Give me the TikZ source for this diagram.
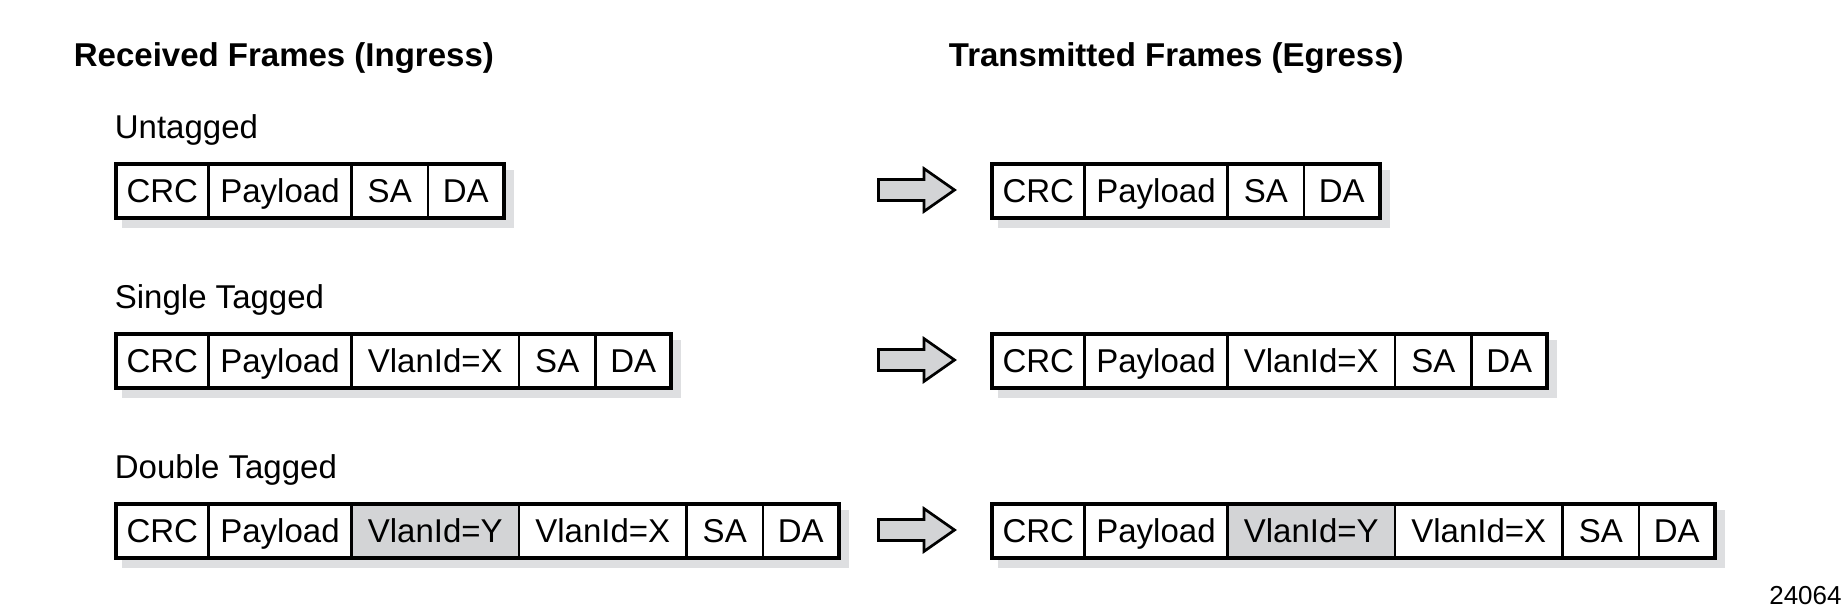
\documentclass[tikz,border=0pt]{standalone}
\usepackage{fontspec}
\setmainfont{Liberation Sans}
\usetikzlibrary{positioning,shapes.arrows,backgrounds}
\definecolor{tagfill}{RGB}{211,212,214}
\definecolor{shadowfill}{RGB}{222,223,225}
\tikzset{
	%Define style for one field of a frame
	field/.style={
		draw, line width=1.15pt,
		fill=white,
		outer sep=0pt, inner sep=0pt,
		minimum height=27pt,
		text height=11.8pt, text depth=0pt,
		font=\fontsize{16.5}{18}\selectfont},
	crc/.style={field, minimum width=46.25pt},
	payload/.style={field, minimum width=71.5pt},
	vlan/.style={field, minimum width=83.75pt},
	sa/.style={field, minimum width=38.25pt},
	da/.style={field, minimum width=37.75pt},
	tagged/.style={fill=tagfill},
	% Define frame outline and shadow
	frameline/.style={draw, line width=2pt},
	frameshadow/.style={fill=shadowfill},
	% Define text styles
	heading/.style={anchor=base west, inner sep=0pt,
		font=\fontsize{16.5}{18}\selectfont\bfseries},
	rowlabel/.style={anchor=base west, inner sep=0pt,
		font=\fontsize{16.5}{18}\selectfont},
	% Define block arrow between frames
	pass/.style={
		single arrow, draw, line width=1.35pt,
		fill=tagfill,
		inner sep=4.6pt,
		minimum height=38pt,
		single arrow head extend=5.4pt,
		single arrow tip angle=70}
}
\begin{document}
\begin{tikzpicture}[x=0.5pt, y=-0.5pt]
	\useasboundingbox (0,0) rectangle (1848,614);

	\node[heading] (ingress) at (73.5,67) {Received Frames (Ingress)};
	\node[heading] (egress) at (948.5,67) {Transmitted Frames (Egress)};

	\node[rowlabel] (lab-u) at (114.5,139) {Untagged};
	\node[rowlabel] (lab-s) at (114.5,309) {Single Tagged};
	\node[rowlabel] (lab-d) at (114.5,479) {Double Tagged};

	% untagged
	\node[crc, anchor=west] (u1-crc) at (116,191) {CRC};
	\node[payload, right=0pt of u1-crc] (u1-pay) {Payload};
	\node[sa, right=0pt of u1-pay] (u1-sa) {SA};
	\node[da, right=0pt of u1-sa] (u1-da) {DA};

	\node[crc, anchor=west] (u2-crc) at (992,191) {CRC};
	\node[payload, right=0pt of u2-crc] (u2-pay) {Payload};
	\node[sa, right=0pt of u2-pay] (u2-sa) {SA};
	\node[da, right=0pt of u2-sa] (u2-da) {DA};

	% single tagged
	\node[crc, anchor=west] (s1-crc) at (116,361) {CRC};
	\node[payload, right=0pt of s1-crc] (s1-pay) {Payload};
	\node[vlan, right=0pt of s1-pay] (s1-vx) {VlanId=X};
	\node[sa, right=0pt of s1-vx] (s1-sa) {SA};
	\node[da, right=0pt of s1-sa] (s1-da) {DA};

	\node[crc, anchor=west] (s2-crc) at (992,361) {CRC};
	\node[payload, right=0pt of s2-crc] (s2-pay) {Payload};
	\node[vlan, right=0pt of s2-pay] (s2-vx) {VlanId=X};
	\node[sa, right=0pt of s2-vx] (s2-sa) {SA};
	\node[da, right=0pt of s2-sa] (s2-da) {DA};

	% double tagged
	\node[crc, anchor=west] (d1-crc) at (116,531) {CRC};
	\node[payload, right=0pt of d1-crc] (d1-pay) {Payload};
	\node[vlan, tagged, right=0pt of d1-pay] (d1-vy) {VlanId=Y};
	\node[vlan, right=0pt of d1-vy] (d1-vx) {VlanId=X};
	\node[sa, right=0pt of d1-vx] (d1-sa) {SA};
	\node[da, right=0pt of d1-sa] (d1-da) {DA};

	\node[crc, anchor=west] (d2-crc) at (992,531) {CRC};
	\node[payload, right=0pt of d2-crc] (d2-pay) {Payload};
	\node[vlan, tagged, right=0pt of d2-pay] (d2-vy) {VlanId=Y};
	\node[vlan, right=0pt of d2-vy] (d2-vx) {VlanId=X};
	\node[sa, right=0pt of d2-vx] (d2-sa) {SA};
	\node[da, right=0pt of d2-sa] (d2-da) {DA};

	% outline and shadow of every frame
	\foreach \f in {u1,u2,s1,s2,d1,d2} {
		\begin{scope}[on background layer]
			\fill[frameshadow] ([shift={(3pt,-3pt)}]\f-crc.north west) rectangle ([shift={(5pt,-5pt)}]\f-da.south east);
		\end{scope}
		\draw[frameline] (\f-crc.north west) rectangle (\f-da.south east);
	}

	\node[pass] (arr-u) at (909,190) {};
	\node[pass] (arr-s) at (909,360) {};
	\node[pass] (arr-d) at (909,530) {};

	\node[anchor=base east, inner sep=0pt, font=\fontsize{13}{14}\selectfont] (figno) at (1842,604) {24064};
\end{tikzpicture}
\end{document}
